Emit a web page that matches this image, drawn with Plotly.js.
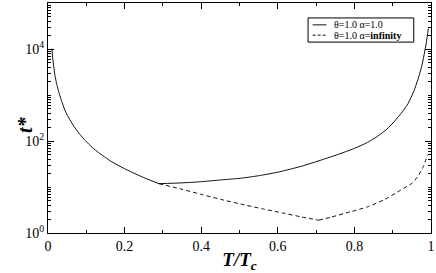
<!DOCTYPE html>
<html>
<head>
<meta charset="utf-8">
<script src="https://cdn.plot.ly/plotly-3.0.1.min.js"></script>
<style>html,body{margin:0;padding:0;background:#fff;}#chart{width:436px;height:273px;}</style>
</head>
<body>
<div id="chart"></div>
<script>
// Series 1: theta=1.0 alpha=1.0 (solid) — two branches meeting at the corner T/Tc≈0.29
const solidLoT = [0.01, 0.012, 0.015, 0.018, 0.022, 0.027, 0.035, 0.045, 0.057, 0.07, 0.083, 0.097, 0.115, 0.132, 0.165, 0.2, 0.23, 0.254, 0.29];
const solidLoY = [10200, 6600, 4100, 2700, 1850, 1250, 760, 450, 290, 195, 140, 103, 73, 56, 36, 25, 19, 15.5, 11.8];
const solidHiT = [0.29, 0.35, 0.398, 0.45, 0.503, 0.55, 0.6, 0.66, 0.738, 0.8, 0.834, 0.86, 0.885, 0.905, 0.925, 0.94, 0.955, 0.966, 0.975, 0.982, 0.988, 0.993];
const solidHiY = [11.8, 12.3, 13, 14.2, 15.5, 17.6, 21, 28, 45, 69, 93, 126, 182, 270, 430, 650, 1200, 2200, 4000, 7500, 14000, 28000];
// Series 2: theta=1.0 alpha=infinity (dashed) — two branches meeting at the minimum T/Tc≈0.707
const dashLoT = [0.29, 0.35, 0.398, 0.45, 0.503, 0.56, 0.615, 0.66, 0.707];
const dashLoY = [11.8, 8.9, 7.0, 5.4, 4.27, 3.35, 2.7, 2.25, 1.9];
const dashHiT = [0.707, 0.738, 0.79, 0.834, 0.88, 0.921, 0.95, 0.965, 0.98, 0.991];
const dashHiY = [1.9, 2.2, 2.9, 3.7, 5.4, 8.6, 12, 16.7, 28, 50];

const xTickVals = [0, 0.2, 0.4, 0.6, 0.8, 1];
const xTickText = ["0", "0.2", "0.4", "0.6", "0.8", "1"];
const yTickVals = [1, 100, 10000];
const yTickText = ["10<sup>0</sup>", "10<sup>2</sup>", "10<sup>4</sup>"];
const seriesNames = ["θ=1.0 α=1.0", "θ=1.0 α=<b>infinity</b>"];

const yMinor = [];
for (let d = 0; d < 5; d++) {
  for (let k = 1; k <= 9; k++) {
    const v = k * Math.pow(10, d);
    if (yTickVals.indexOf(v) < 0) yMinor.push(v);
  }
}

const serif = '"Liberation Serif", "Times New Roman", Times, serif';
const ink = "#111";
const solidLine = {color: ink, width: 1, shape: "spline", smoothing: 0.6};
const dashLine = {color: ink, width: 1, dash: "4px,3px", shape: "spline", smoothing: 0.6};

const data = [
  {x: solidLoT, y: solidLoY, mode: "lines", line: solidLine, showlegend: false},
  {x: solidHiT, y: solidHiY, mode: "lines", line: solidLine, showlegend: false},
  {x: dashLoT, y: dashLoY, mode: "lines", line: dashLine, showlegend: false},
  {x: dashHiT, y: dashHiY, mode: "lines", line: dashLine, showlegend: false}
];

// hand-drawn legend box (paper coords)
const lgX0 = 0.679, lgX1 = 0.955, lgY0 = 0.83, lgY1 = 0.935;
const rowY = [0.905, 0.86];
const shapes = [
  {type: "rect", xref: "paper", yref: "paper", x0: lgX0, x1: lgX1, y0: lgY0, y1: lgY1,
   line: {color: "#000", width: 1}, fillcolor: "#fff", layer: "above"},
  {type: "line", xref: "paper", yref: "paper", x0: lgX0 + 0.012, x1: lgX0 + 0.048, y0: rowY[0], y1: rowY[0],
   line: {color: ink, width: 1}, layer: "above"},
  {type: "line", xref: "paper", yref: "paper", x0: lgX0 + 0.012, x1: lgX0 + 0.048, y0: rowY[1], y1: rowY[1],
   line: {color: ink, width: 1, dash: "3px,2px"}, layer: "above"}
];
const annotations = [
  {xref: "paper", yref: "paper", x: lgX0 + 0.063, y: rowY[0], xanchor: "left", yanchor: "middle",
   text: seriesNames[0], showarrow: false, font: {family: serif, size: 10, color: "#000"}},
  {xref: "paper", yref: "paper", x: lgX0 + 0.063, y: rowY[1], xanchor: "left", yanchor: "middle",
   text: seriesNames[1], showarrow: false, font: {family: serif, size: 10, color: "#000"}},
  {xref: "paper", yref: "paper", x: -0.06, y: 0.47, xanchor: "center", yanchor: "middle", textangle: -90,
   text: "<b><i>t*</i></b>", showarrow: false, font: {family: serif, size: 20, color: "#000"}}
];

const layout = {
  width: 436, height: 273,
  margin: {l: 48, r: 5, t: 3, b: 40},
  paper_bgcolor: "#fff", plot_bgcolor: "#fff",
  font: {family: serif, color: "#000", size: 14},
  showlegend: false,
  shapes: shapes,
  annotations: annotations,
  xaxis: {
    range: [0, 1], showgrid: false, zeroline: false,
    showline: true, linecolor: "#000", linewidth: 1, mirror: "allticks",
    ticks: "inside", ticklen: 6, tickcolor: "#000",
    tickmode: "array", tickvals: xTickVals, ticktext: xTickText,
    tickfont: {family: serif, size: 14},
    minor: {dtick: 0.1, ticks: "inside", ticklen: 3, tickcolor: "#000", showgrid: false},
    title: {text: "<b><i>T/T<sub>c</sub></i></b>", font: {family: serif, size: 19}, standoff: 4}
  },
  yaxis: {
    type: "log", range: [0, 5], showgrid: false, zeroline: false,
    showline: true, linecolor: "#000", linewidth: 1, mirror: "allticks",
    ticks: "inside", ticklen: 6, tickcolor: "#000",
    tickmode: "array", tickvals: yTickVals, ticktext: yTickText,
    tickfont: {family: serif, size: 14},
    minor: {tickmode: "array", tickvals: yMinor, ticks: "inside", ticklen: 3, tickcolor: "#000", showgrid: false}
  }
};

Plotly.newPlot("chart", data, layout, {displayModeBar: false, staticPlot: true});
</script>
</body>
</html>
